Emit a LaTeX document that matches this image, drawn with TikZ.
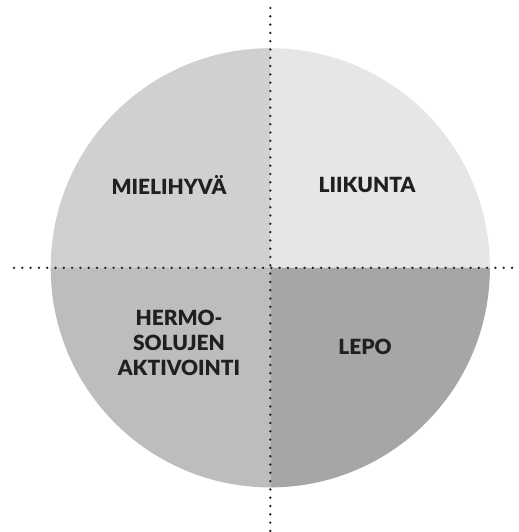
\documentclass[tikz,border=0pt]{standalone}
\usepackage{fontspec}
\setmainfont{Lato}[UprightFont=* Black]
\definecolor{qtl}{HTML}{D0D0D2}
\definecolor{qtr}{HTML}{E6E6E8}
\definecolor{qbl}{HTML}{BDBDC0}
\definecolor{qbr}{HTML}{A6A6A8}
\definecolor{ink}{HTML}{231F20}
\begin{document}
\begin{tikzpicture}[x=1bp,y=-1bp,
  label/.style={text=ink,font=\fontsize{21}{25}\selectfont,align=center,inner sep=0pt},
  dots/.style={line width=2.6bp,line cap=round,dash pattern=on 0bp off 8.3bp,draw=ink}]
\useasboundingbox (0,0) rectangle (519,532);
\coordinate (c) at (270.3,267.8);
\def\R{219.6}
% four quadrants of the disc (y axis points down, so angles run clockwise)
\fill[qtr] (c) -- ++(0,-\R) arc[start angle=-90,end angle=0,radius=\R] -- cycle;
\fill[qtl] (c) -- ++(-\R,0) arc[start angle=180,end angle=270,radius=\R] -- cycle;
\fill[qbl] (c) -- ++(0,\R) arc[start angle=90,end angle=180,radius=\R] -- cycle;
\fill[qbr] (c) -- ++(\R,0) arc[start angle=0,end angle=90,radius=\R] -- cycle;
% dotted axes
\coordinate (hl) at (14,267.8);
\coordinate (hr) at (519,267.8);
\coordinate (vt) at (270.3,8);
\coordinate (vb) at (270.3,532);
\draw[dots] (hl) -- (hr);
\draw[dots] (vt) -- (vb);
% labels
\node[label] (mieli) at (169,185) {MIELIHYVÄ};
\node[label] (liik) at (367,185) {LIIKUNTA};
\node[label] (herm) at (179,343) {HERMO-\\SOLUJEN\\AKTIVOINTI};
\node[label] (lepo) at (365,346.5) {LEPO};
\end{tikzpicture}
\end{document}
